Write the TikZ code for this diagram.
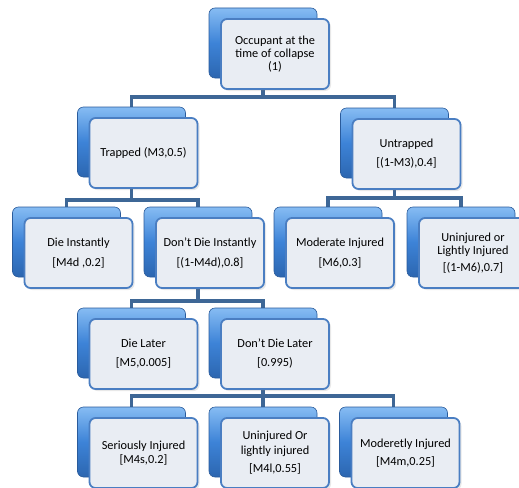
\documentclass[tikz,border=0pt]{standalone}
\usepackage{fontspec}
\setmainfont{Carlito}
\usetikzlibrary{backgrounds,shadows}
\definecolor{boxtop}{HTML}{86BCF3}
\definecolor{boxmid}{HTML}{3D83D7}
\definecolor{boxbot}{HTML}{2C66B0}
\definecolor{boxedge}{HTML}{2A5B9B}
\definecolor{cardfill}{HTML}{E9EDF3}
\definecolor{cardedge}{HTML}{4A7EC2}
\definecolor{linkblue}{HTML}{3E6796}

\begin{document}
\begin{tikzpicture}[x=1pt, y=-1pt, font=\fontsize{12.3}{13}\selectfont,
  back/.style={rectangle, rounded corners=6pt, minimum width=108pt, minimum height=70pt,
    inner sep=0pt, top color=boxtop, bottom color=boxbot, middle color=boxmid,
    draw=boxedge, line width=0.6pt},
  card/.style={rectangle, rounded corners=6pt, minimum width=108pt, minimum height=70pt,
    inner sep=2pt, align=center, fill=cardfill, draw=cardedge, line width=1.8pt,
    drop shadow={opacity=0.18, shadow xshift=2pt, shadow yshift=-2pt}},
  link/.style={linkblue, line width=3.5pt}]
  \useasboundingbox (0,0) rectangle (519,487);
  \clip (0,0) rectangle (519,487);

  % --- Top ---
  \node[back] (rootb) at (263,43) {};
  \node[card] (root) at (275,54) {Occupant at the\\time of collapse\\(1)};

  % --- Trapped / untrapped ---
  \node[back] (trappedb) at (131.5,142) {};
  \node[card] (trapped) at (143.5,153) {Trapped (M3,0.5)};
  \node[back] (untrappedb) at (394.5,143) {};
  \node[card] (untrapped) at (406.5,154) {Untrapped\\[6pt][(1-M3),0.4]};

  % --- Under trapped ---
  \node[back] (instb) at (66.5,242) {};
  \node[card] (inst) at (78.5,253) {Die Instantly\\[7pt][M4d ,0.2]};
  \node[back] (notinstb) at (198,242) {};
  \node[card] (notinst) at (210,253) {Don't Die Instantly\\[7pt][(1-M4d),0.8]};

  % --- Under untrapped ---
  \node[back] (moderateb) at (328,242) {};
  \node[card] (moderate) at (340,253) {Moderate Injured\\[7pt][M6,0.3]};
  \node[back] (lightb) at (461,242) {};
  \node[card] (light) at (473,253) {Uninjured or\\Lightly Injured\\[4pt][(1-M6),0.7]};

  % --- Under don't die instantly ---
  \node[back] (laterb) at (131.5,343) {};
  \node[card] (later) at (143.5,354) {Die Later\\[6pt][M5,0.005]};
  \node[back] (notlaterb) at (263,343) {};
  \node[card] (notlater) at (275,354) {Don't Die Later\\[6pt][0.995)};

  % --- Under don't die later ---
  \node[back] (seriousb) at (131.5,442) {};
  \node[card] (serious) at (143.5,453) {Seriously Injured\\[1pt][M4s,0.2]};
  \node[back] (lowlightb) at (263,442) {};
  \node[card] (lowlight) at (275,453) {Uninjured Or\\[2pt]lightly injured\\[5pt][M4l,0.55]};
  \node[back] (moderetb) at (393.5,442) {};
  \node[card] (moderet) at (405.5,453) {Moderetly Injured\\[5pt][M4m,0.25]};

  % --- Connectors ---
  \coordinate (bar1) at (263,97);
  \coordinate (bar2) at (131.5,200);
  \coordinate (bar3) at (394.5,198);
  \coordinate (bar4) at (198,301);
  \coordinate (bar5) at (263,396);
  \begin{scope}[on background layer]
    \draw[link] (rootb.center) -- (bar1);
    \draw[link] (trappedb.center) |- (bar1) -| (untrappedb.center);
    \draw[link] (trappedb.center) -- (bar2);
    \draw[link] (instb.center) |- (bar2) -| (notinstb.center);
    \draw[link] (untrappedb.center) -- (bar3);
    \draw[link] (moderateb.center) |- (bar3) -| (lightb.center);
    \draw[link] (notinstb.center) -- (bar4);
    \draw[link] (laterb.center) |- (bar4) -| (notlaterb.center);
    \draw[link] (notlaterb.center) -- (lowlightb.center);
    \draw[link] (seriousb.center) |- (bar5) -| (moderetb.center);
  \end{scope}
\end{tikzpicture}
\end{document}
